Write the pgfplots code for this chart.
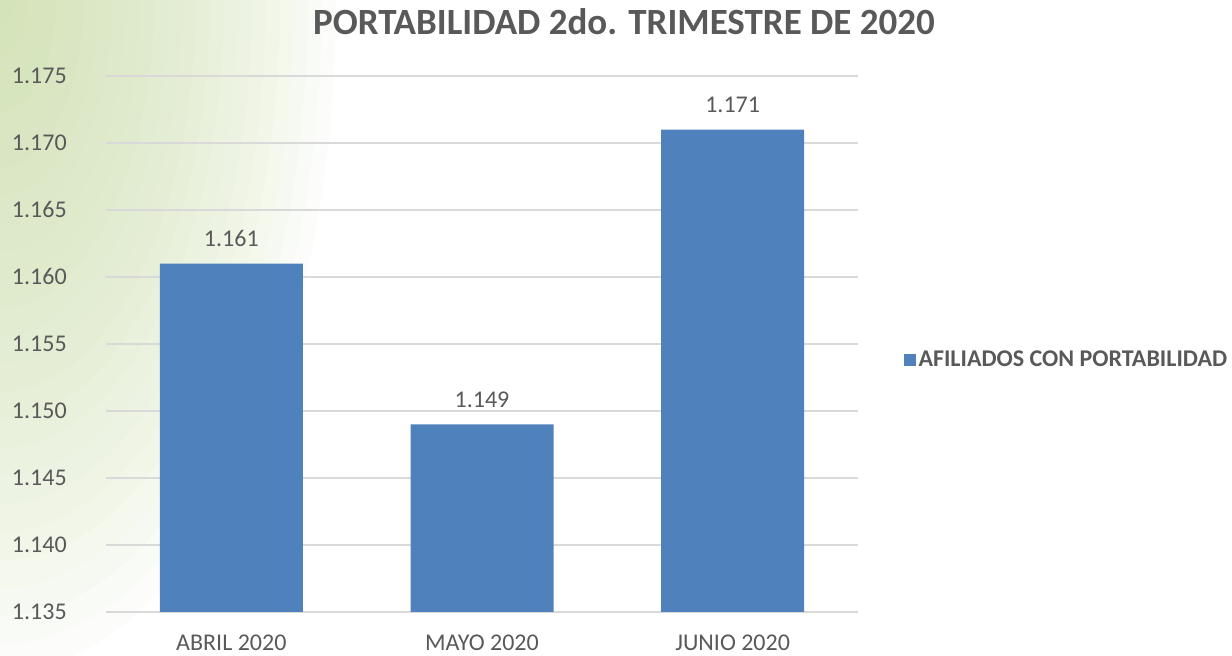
\documentclass[border=0pt]{standalone}
\usepackage{pgfplots}
\pgfplotsset{compat=1.18}
\usepackage{fontspec}
\setmainfont{Carlito}
\definecolor{txt}{HTML}{595959}
\definecolor{barc}{HTML}{4F81BD}
\definecolor{gridc}{HTML}{D9D9D9}
\definecolor{bgg}{HTML}{C4D8A0}
\begin{document}
\begin{tikzpicture}
\useasboundingbox (0,0) rectangle (616pt,328pt);
\begin{scope}
\clip (0,0) rectangle (616pt,328pt);
\foreach \i in {1,...,24} {
  \fill[bgg, opacity=0.05] (0pt,328pt) ellipse [x radius={\i*7pt}, y radius={\i*14pt}];
}
\end{scope}
\node[font=\fontsize{18.5}{22}\selectfont\bfseries, text=txt] at (312pt,317pt) {PORTABILIDAD 2do. TRIMESTRE DE 2020};
\begin{axis}[
  at={(53pt,22pt)}, anchor=south west,
  scale only axis, width=376pt, height=268pt,
  xmin=-0.5, xmax=2.5, ymin=1.135, ymax=1.175,
  ytick={1.135,1.140,1.145,1.150,1.155,1.160,1.165,1.170,1.175},
  xtick=data, xticklabels={ABRIL 2020, MAYO 2020, JUNIO 2020},
  axis x line=bottom, axis y line=left,
  axis line style={draw=none}, tick style={draw=none},
  ymajorgrids, grid style={gridc, line width=0.8pt},
  /pgf/number format/assume math mode=true,
  yticklabel style={/pgf/number format/fixed, /pgf/number format/fixed zerofill, /pgf/number format/precision=3, xshift=-14pt},
  tick label style={font=\fontsize{12}{14}\selectfont, text=txt},
  xticklabel style={yshift=-3.5pt},
  ybar, bar width=71.5pt,
  nodes near coords,
  nodes near coords style={font=\fontsize{12}{14}\selectfont, text=txt, anchor=south, yshift=5pt, /pgf/number format/fixed, /pgf/number format/fixed zerofill, /pgf/number format/precision=3},
  legend style={draw=none, fill=none, at={(1.06,0.47)}, anchor=west, font=\fontsize{12}{14}\selectfont\bfseries, text=txt, inner sep=0pt, nodes={inner sep=1.5pt}},
  legend image code/.code={\fill[#1] (0pt,-3pt) rectangle (6pt,3pt);},
  clip=false,
]
\addplot[fill=barc, draw=none] coordinates {(0,1.161) (1,1.149) (2,1.171)};
\addlegendentry{AFILIADOS CON PORTABILIDAD}
\end{axis}
\end{tikzpicture}
\end{document}
